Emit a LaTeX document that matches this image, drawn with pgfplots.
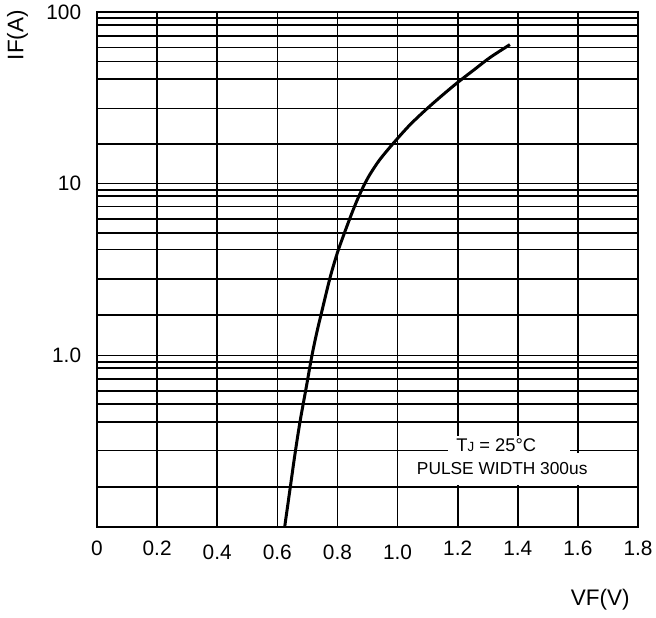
\documentclass[border=0pt]{standalone}
\usepackage{fontspec}
\setmainfont{Liberation Sans}
\usepackage{pgfplots}
\pgfplotsset{compat=1.18}

% forward characteristic
\pgfplotstableread{
vf     if
0.6244 0.100
0.6420 0.1653
0.6587 0.266
0.6753 0.4088
0.6976 0.6714
0.7142 0.978
0.7309 1.349
0.7475 1.787
0.7751 2.820
0.7974 3.839
0.8140 4.662
0.8417 6.305
0.8639 7.892
0.8859 9.592
0.9082 11.33
0.9415 13.85
0.9914 17.63
1.0413 22.02
1.0968 27.23
1.1520 33.08
1.2019 39.11
1.2575 46.49
1.3074 54.26
1.3739 64.59
}\ivcurve

\newcommand{\lowered}[2]{\raisebox{-#1}[\height][0pt]{#2}}

\begin{document}
\begin{tikzpicture}[x=1pt,y=1pt]
\path[use as bounding box] (-58.2,-54) rectangle (335.4,316.2);
\begin{axis}[
    at={(0,0)}, anchor=south west,
    scale only axis,
    width=324.6pt, height=309pt,
    ymode=log,
    xmin=0, xmax=1.8,
    ymin=0.1, ymax=100,
    xtick={0,0.2,...,1.8},
    xticklabels={0,0.2,\lowered{2.5pt}{0.4},\lowered{2pt}{0.6},\lowered{2pt}{0.8},\lowered{2.5pt}{1.0},1.2,1.4,1.6,1.8},
    ytick={1,10,100},
    yticklabels={1.0,10,100},
    % the sheet's grid lines, where they are drawn on it
    minor ytick={0.171,0.279,0.41,0.52,0.621,0.726,0.847,0.914,
                 1.72,2.79,4.14,5.18,6.23,7.36,8.51,9.22,
                 17.1,27.4,40.8,51.4,62,72.5,84,91.9},
    grid=both,
    major grid style={black, line width=1pt},
    minor grid style={black, line width=1pt},
    axis line style={black, line width=1pt},
    major tick length=0pt, minor tick length=0pt,
    tick label style={font=\fontsize{12.5}{14}\selectfont},
    xticklabel style={yshift=-5pt},
    yticklabel style={xshift=-6pt},
    clip=false,
]
\addplot[black, line width=1.8pt, smooth, tension=0.5] table[x=vf, y=if] {\ivcurve};
\node[fill=white, inner sep=0pt, minimum width=125pt, minimum height=19pt,
      font=\fontsize{10.4}{12}\selectfont]
  at (rel axis cs:0.749,0.113) {PULSE WIDTH 300us};
\node[fill=white, inner sep=0pt, minimum width=73pt, minimum height=11pt]
  at (rel axis cs:0.762,0.158) {};
\node[fill=white, inner sep=1pt, font=\fontsize{11}{12}\selectfont]
  at (rel axis cs:0.738,0.158) {T{\fontsize{8}{9}\selectfont J} = 25°C};
\node[rotate=90, font=\fontsize{13.5}{15}\selectfont]
  at (rel axis cs:-0.147,0.955) {IF(A)};
\node[font=\fontsize{13.5}{15}\selectfont]
  at (rel axis cs:0.930,-0.142) {VF(V)};
\end{axis}
\end{tikzpicture}
\end{document}
